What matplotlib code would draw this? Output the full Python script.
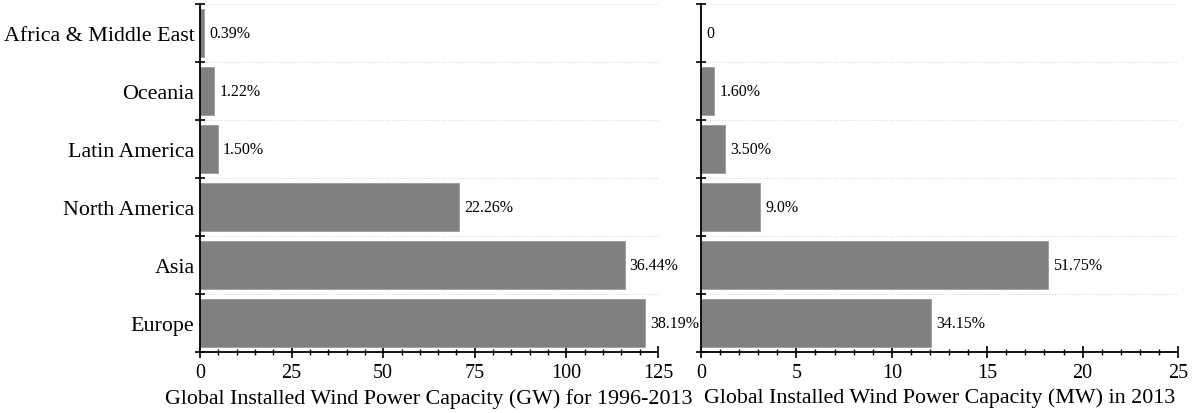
import numpy as np
from matplotlib import pyplot as plt
from matplotlib.ticker import MultipleLocator

plt.rcParams['font.family'] = ['Liberation Serif', 'DejaVu Serif']

# regions from bottom to top
regions = ['Europe', 'Asia', 'North America', 'Latin America', 'Oceania', 'Africa & Middle East']

# cumulative capacity 1996-2013 (GW) and share labels
cum_gw = [121.5, 115.9, 70.8, 4.8, 3.9, 1.2]
cum_lbl = ['38.19%', '36.44%', '22.26%', '1.50%', '1.22%', '0.39%']

# capacity installed in 2013 and share labels
y2013 = [12.06, 18.2, 3.09, 1.26, 0.68, 0.0]
y2013_lbl = ['34.15%', '51.75%', '9.0%', '3.50%', '1.60%', '0']

fig = plt.figure(figsize=(11.92, 4.14), dpi=100)
ax1 = fig.add_axes([200/1192, 1-353/414, 458/1192, 348/414])
ax2 = fig.add_axes([701/1192, 1-353/414, 477/1192, 348/414])

pos = np.arange(len(regions))
bounds = np.arange(len(regions)) - 0.5

def draw(ax, vals, lbls, xmax, major, minor, xlabel, names):
    ax.barh(pos, vals, height=0.82, color='#808080', edgecolor='#9a9a9a', linewidth=0.6, zorder=2)
    for b in bounds[1:]:
        ax.axhline(b, color='#d8d8d8', ls=':', lw=0.8, zorder=1)
    ax.axhline(len(regions) - 0.5, color='#e0e0e0', ls=':', lw=0.8, zorder=1)
    off = xmax * 0.011
    for p, v, t in zip(pos, vals, lbls):
        ax.text(v + off, p, t, va='center', ha='left', fontsize=11.5)
    ax.set_xlim(0, xmax)
    ax.set_ylim(-0.5, len(regions) - 0.5)
    ax.xaxis.set_major_locator(MultipleLocator(major))
    ax.xaxis.set_minor_locator(MultipleLocator(minor))
    ax.set_yticks(list(bounds) + [len(regions) - 0.5])
    ax.set_yticklabels([])
    ax.set_yticks(pos, minor=True)
    ax.set_yticklabels(names if names else [''] * len(pos), minor=True, fontsize=15.8)
    ax.tick_params(axis='y', which='minor', length=0, pad=4)
    ax.tick_params(axis='y', which='major', direction='inout', length=7, width=1.2)
    ax.tick_params(axis='x', which='major', direction='inout', length=8, width=1.2, labelsize=14.5, pad=4)
    ax.tick_params(axis='x', which='minor', direction='inout', length=5, width=1.0)
    for s in ['top', 'right']:
        ax.spines[s].set_visible(False)
    for s in ['left', 'bottom']:
        ax.spines[s].set_linewidth(1.3)
    ax.set_xlabel(xlabel, fontsize=15.8, labelpad=4)

draw(ax1, cum_gw, cum_lbl, 125, 25, 5,
     'Global Installed Wind Power Capacity (GW) for 1996-2013', regions)
draw(ax2, y2013, y2013_lbl, 25, 5, 1,
     'Global Installed Wind Power Capacity (MW) in 2013', None)

plt.savefig('out.png', dpi=100)
